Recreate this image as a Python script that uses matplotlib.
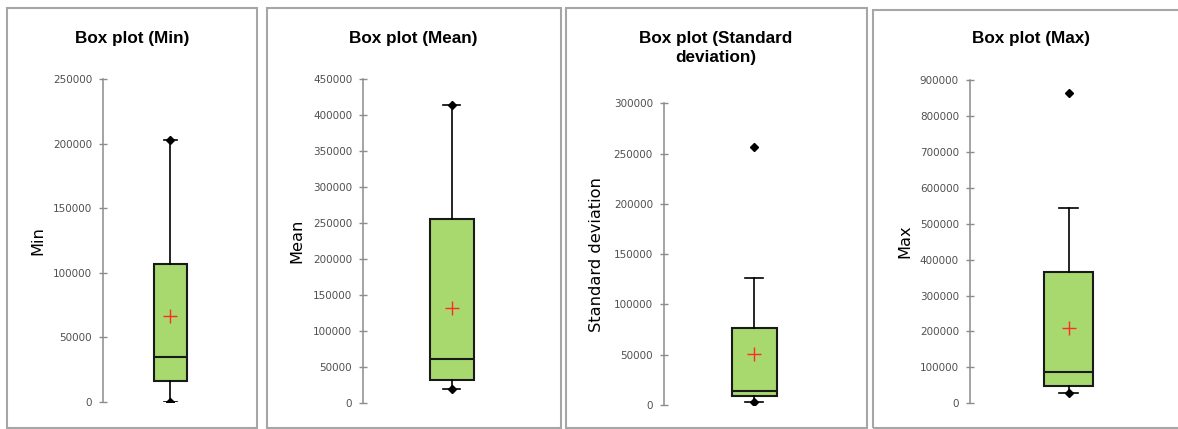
import matplotlib
matplotlib.use("Agg")
import matplotlib.pyplot as plt
from matplotlib.patches import Rectangle

# Data
names = ['Min', 'Mean', 'Standard deviation', 'Max']
titles = ['Box plot (Min)', 'Box plot (Mean)', 'Box plot (Standard\ndeviation)', 'Box plot (Max)']
q1 = [16000, 31500, 8900, 49000]
median = [35000, 60800, 14200, 88000]
q3 = [107000, 255500, 76900, 366300]
mean = [66500, 131300, 50700, 210500]
whisker_lo = [0, 18600, 3300, 29500]
whisker_hi = [202500, 414500, 126000, 542800]
minimum = [0, 18600, 3300, 29500]
maximum = [202500, 414500, 256900, 864700]
y_top = [250000, 450000, 300000, 900000]
y_step = [50000, 50000, 50000, 100000]

W, H = 1178, 429
fig = plt.figure(figsize=(W / 100, H / 100), dpi=100)

# layout in pixels: panel frame, axis position, title/label centres
frames = [(7, 8, 257, 428), (267, 8, 561, 428), (566, 8, 867, 428), (873, 10, 1195, 428)]
axes_px = [(103.3, 79, 237.3, 401.7), (363.3, 79.3, 540, 402.7),
           (664, 103.3, 844.6, 405), (970, 80, 1167, 403.3)]
title_xy = [(132, 38), (413.5, 38), (716, 48), (1031, 39)]
label_x = [38.3, 297.3, 596.7, 905]

green = '#a8d96e'

for i in range(4):
    x0, y0, x1, y1 = frames[i]
    fig.patches.append(Rectangle((x0 / W, 1 - y1 / H), (x1 - x0) / W, (y1 - y0) / H,
                                 transform=fig.transFigure, fill=False,
                                 edgecolor='#a6a6a6', lw=1.5))

    ax_l, ax_t, ax_r, ax_b = axes_px[i]
    ax = fig.add_axes([ax_l / W, 1 - ax_b / H, (ax_r - ax_l) / W, (ax_b - ax_t) / H])

    stats = [dict(med=median[i], q1=q1[i], q3=q3[i], whislo=whisker_lo[i],
                  whishi=whisker_hi[i], mean=mean[i], fliers=[])]
    ax.bxp(stats, positions=[1], widths=0.5, capwidths=0.2, showmeans=True,
           showfliers=False, patch_artist=True,
           boxprops=dict(facecolor=green, edgecolor='#1a1a1a', lw=1.5),
           medianprops=dict(color='#1a1a1a', lw=1.5),
           whiskerprops=dict(color='black', lw=1.2),
           capprops=dict(color='black', lw=1.2),
           meanprops=dict(marker='+', markeredgecolor='#ff2a2a', markersize=10,
                          markeredgewidth=1.0))
    ax.plot([1, 1], [minimum[i], maximum[i]], ls='none', marker='D',
            color='black', markersize=4.5, zorder=5)

    ax.set_xlim(0, 2)
    ax.set_ylim(0, y_top[i])
    ax.set_yticks(range(0, y_top[i] + 1, y_step[i]))
    ax.set_yticklabels([str(v) for v in range(0, y_top[i] + 1, y_step[i])])
    ax.set_xticks([])
    for s in ['top', 'right', 'bottom']:
        ax.spines[s].set_visible(False)
    ax.spines['left'].set_color('#8c8c8c')
    ax.spines['left'].set_linewidth(1.1)
    ax.tick_params(axis='y', direction='inout', length=6, width=1, color='#8c8c8c',
                   labelsize=7.5, labelcolor='#505050', pad=5)
    ax.patch.set_visible(False)

    tx, ty = title_xy[i]
    fig.text(tx / W, 1 - ty / H, titles[i], ha='center', va='center',
             fontsize=12.3, fontweight='bold', linespacing=1.3,
             family=['Liberation Sans', 'DejaVu Sans'])
    fig.text(label_x[i] / W, 1 - ((ax_t + ax_b) / 2) / H, names[i], rotation=90,
             ha='center', va='center', fontsize=11.7, family='DejaVu Sans')

fig.savefig('out.png', dpi=100)
